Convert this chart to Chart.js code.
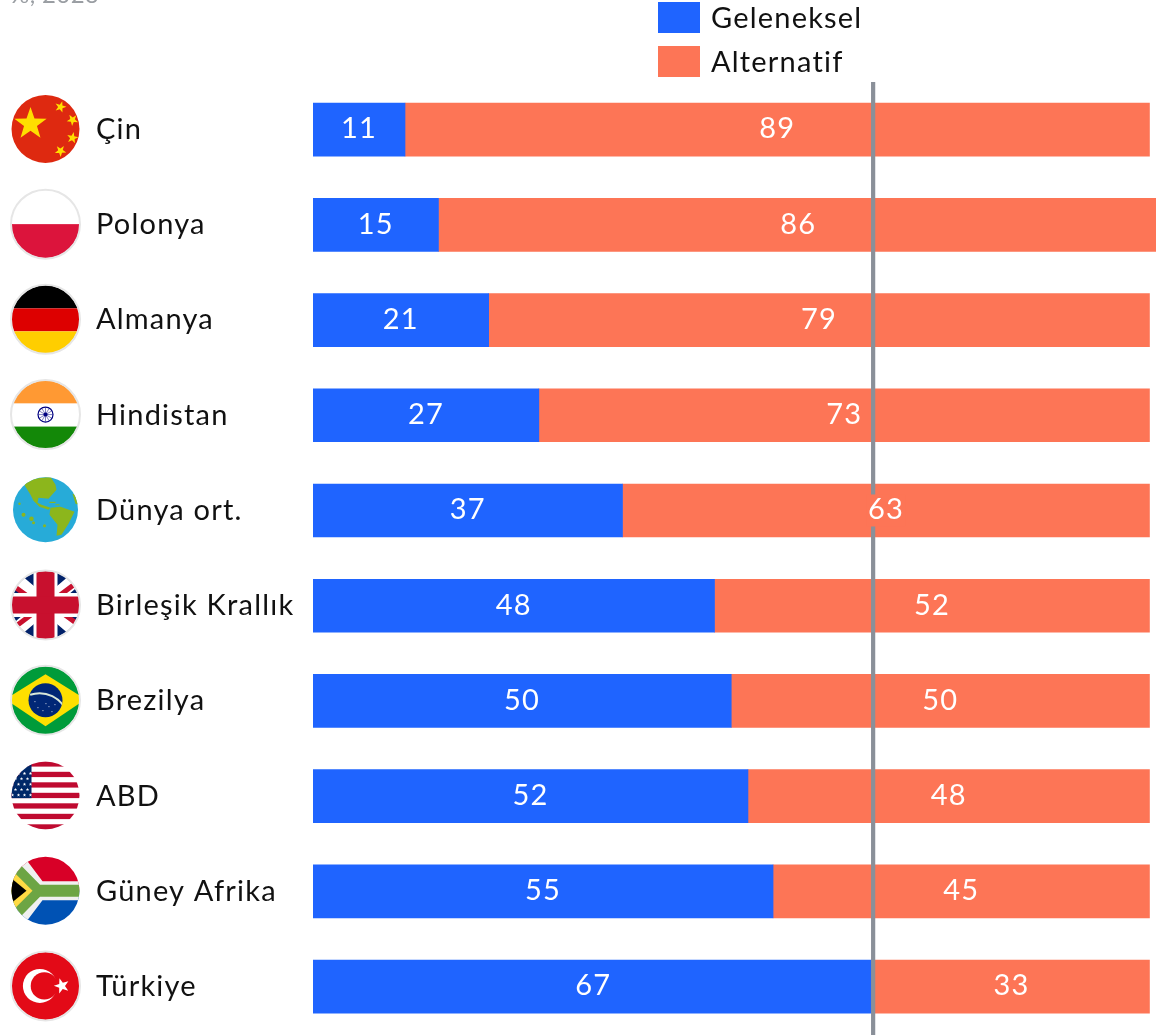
<!DOCTYPE html>
<html lang="tr"><head><meta charset="utf-8">
<style>html,body{margin:0;padding:0;background:#fff}canvas{display:block}</style>
<script src="https://cdn.jsdelivr.net/npm/chart.js@4"></script></head>
<body><canvas id="c" width="1156" height="1035"></canvas>
<script>
const categories=["Çin","Polonya","Almanya","Hindistan","Dünya ort.","Birleşik Krallık","Brezilya","ABD","Güney Afrika","Türkiye"];
const geleneksel=[11,15,21,27,37,48,50,52,55,67];
const alternatif=[89,86,79,73,63,52,50,48,45,33];
const seriesNames=["Geleneksel","Alternatif"];
const seriesColors=["#1f64ff","#fd7556"];
const referenceValue=67;
const axisMax=100.78;
const subtitle="%, 2023";
const flagKeys=["cn","pl","de","in","world","gb","br","us","za","tr"];
const FONT='Lato, sans-serif';
const SIZE=29, SPACING='1.2px';

function star(c,x,y,r,rot,color){c.fillStyle=color;c.beginPath();
 for(let i=0;i<10;i++){const a=rot-Math.PI/2+i*Math.PI/5,q=i%2?r*0.4:r;c.lineTo(x+q*Math.cos(a),y+q*Math.sin(a));}
 c.closePath();c.fill();}
function rect(c,col,x,y,w,h){c.fillStyle=col;c.fillRect(x,y,w,h);}
function poly(c,col,p){c.fillStyle=col;c.beginPath();p.forEach(q=>c.lineTo(q[0],q[1]));c.closePath();c.fill();}
const flags={
 cn(c){rect(c,'#de2910',-40,-40,80,80);star(c,-15,-5,17,0,'#ffde00');
  [[15,-22,0.3],[27,-9,0.7],[27,9,0.2],[15,22,0.6]].forEach(s=>star(c,s[0],s[1],6,s[2],'#ffde00'));},
 pl(c){rect(c,'#fff',-40,-40,80,40);rect(c,'#dc143c',-40,0,80,40);},
 de(c){rect(c,'#000',-40,-40,80,29);rect(c,'#dd0000',-40,-11,80,23);rect(c,'#ffce00',-40,12,80,28);},
 in(c){rect(c,'#ff9933',-40,-40,80,29);rect(c,'#fff',-40,-11,80,23);rect(c,'#138808',-40,12,80,28);
  c.strokeStyle='#000080';c.lineWidth=1.2;c.beginPath();c.arc(0,0,7.5,0,7);c.stroke();
  c.lineWidth=.5;for(let i=0;i<12;i++){const a=i*Math.PI/6;c.beginPath();c.moveTo(0,0);c.lineTo(7*Math.cos(a),7*Math.sin(a));c.stroke();}
  c.fillStyle='#000080';c.beginPath();c.arc(0,0,2,0,7);c.fill();},
 world(c){rect(c,'#27abd8',-40,-40,80,80);
  const L='#8cb61c';
  const na=[[-22,-27],[-12,-31],[5,-33],[10,-25],[11,-20],[3,-11],[-7,-12],[-8,-7],[-4,-5],[5,-2],[3,0],[-6,-3],[-12,-9],[-15,-15],[-20,-23]];
  const sa=[[5,-2],[15,-3],[29,2],[23,14],[16,25],[11,26],[12,15],[4,5]];
  poly(c,L,na);poly(c,L,sa);poly(c,L,[[27,-16],[33,-14],[33,-5],[30,-6]]);
  [[-26,-6,1.2],[-22,5,2],[-14,9,2.2],[-12,13,1.5],[-1,16,1.5]].forEach(p=>{c.fillStyle=L;c.beginPath();c.arc(p[0],p[1],p[2],0,7);c.fill();});
  [[4,-8,6,1.2],[10,-5.5,4,1]].forEach(p=>{c.fillStyle=L;c.fillRect(p[0],p[1],p[2],p[3]);});},
 gb(c){rect(c,'#012169',-40,-40,80,80);
  c.strokeStyle='#fff';c.lineWidth=14;c.beginPath();c.moveTo(-40,-34);c.lineTo(40,34);c.moveTo(-40,34);c.lineTo(40,-34);c.stroke();
  c.strokeStyle='#c8102e';c.lineWidth=5;c.beginPath();c.moveTo(-36,-22);c.lineTo(-10,-3);c.moveTo(36,22);c.lineTo(10,3);c.moveTo(-36,26);c.lineTo(-12,8);c.moveTo(36,-26);c.lineTo(12,-8);c.stroke();
  rect(c,'#fff',-12,-40,24,80);rect(c,'#fff',-40,-12,80,24);
  rect(c,'#c8102e',-9,-40,18,80);rect(c,'#c8102e',-40,-8.5,80,17);},
 br(c){rect(c,'#009b3a',-40,-40,80,80);poly(c,'#fedf00',[[-40,-1],[0,-26],[40,-1],[0,26]]);
  c.fillStyle='#002776';c.beginPath();c.arc(0,0,17,0,7);c.fill();
  c.save();c.beginPath();c.arc(0,0,17,0,7);c.clip();c.strokeStyle='#d8e8d8';c.lineWidth=2;c.beginPath();c.arc(-6,22,29,-1.9,-0.3);c.stroke();c.restore();
  c.fillStyle='#fff';[[-8,7],[-3,10],[3,6],[6,11],[9,4],[-11,1],[0,3]].forEach(p=>c.fillRect(p[0],p[1],.9,.9));},
 us(c){rect(c,'#fff',-40,-40,80,80);[-31.5,-21,-10.5,0,10.5,21,31.5].forEach(y=>rect(c,'#bf0a30',-40,y-2.65,80,5.3));
  rect(c,'#002868',-40,-40,26,42.7);
  for(let r=0;r<5;r++)for(let k=0;k<4;k++)star(c,-33+k*6+(r%2?3:0),-22+r*5.4,1.8,0,'#fff');},
 za(c){rect(c,'#d80027',-40,-40,80,40);rect(c,'#0052b4',-40,0,80,40);
  poly(c,'#f0f0f0',[[-40,-40],[-26,-40],[-3,-9.5],[40,-9.5],[40,9.5],[-3,9.5],[-26,40],[-40,40]]);
  poly(c,'#6da544',[[-40,-32],[-31,-32],[-5.5,-6],[40,-6],[40,6],[-5.5,6],[-31,32],[-40,32]]);
  poly(c,'#ffda44',[[-40,-21],[-34,-21],[-13,0],[-34,21],[-40,21]]);
  poly(c,'#000',[[-40,-17],[-19,0],[-40,17]]);},
 tr(c){rect(c,'#e30a17',-40,-40,80,80);c.fillStyle='#fff';c.beginPath();c.arc(-5.6,0,17,0,7);c.fill();
  c.fillStyle='#e30a17';c.beginPath();c.arc(-1.2,0,13.6,0,7);c.fill();star(c,16.3,0,8,-0.3,'#fff');}
};
const ringed={pl:1,de:1,in:1,gb:1,br:1,tr:1};

const reskin={id:'reskin',
 beforeDraw(ch){ch.ctx.letterSpacing=SPACING;},
 afterDatasetsDraw(ch){
  const c=ch.ctx,xs=ch.scales.x,ys=ch.scales.y,a=ch.chartArea;
  const lx=xs.getPixelForValue(referenceValue);
  c.save();c.fillStyle='#8a9099';c.fillRect(lx-2.4,a.top,4.2,ch.height-a.top);c.restore();
  c.save();c.font=SIZE+'px '+FONT;c.textAlign='center';c.textBaseline='middle';c.letterSpacing=SPACING;
  ch.data.datasets.forEach((ds,di)=>{
   const m=ch.getDatasetMeta(di);
   m.data.forEach((b,i)=>{
    const base=di===0?0:ch.data.datasets[0].data[i];
    const tx=xs.getPixelForValue(base+ds.data[i]/2),w=c.measureText(String(ds.data[i])).width;
    if(tx-w/2<lx+2&&tx+w/2>lx-2){c.fillStyle=ds.backgroundColor;c.fillRect(tx-w/2-1,b.y-16,w+2,32);}
    c.fillStyle='#fff';c.fillText(String(ds.data[i]),tx,b.y-0.5);
   });
  });
  c.restore();
  flagKeys.forEach((k,i)=>{
   const y=ys.getPixelForValue(i)-0.7,x=45.5;
   c.save();c.translate(x,y);
   c.save();c.beginPath();c.arc(0,0,k==='world'?32.5:34,0,7);c.clip();flags[k](c);c.restore();
   if(ringed[k]){c.strokeStyle='#e6e6e6';c.lineWidth=2;c.beginPath();c.arc(0,0,34.5,0,7);c.stroke();}
   c.restore();
  });
  c.save();c.font=SIZE+'px '+FONT;c.textAlign='left';c.textBaseline='middle';c.letterSpacing=SPACING;
  ch.data.datasets.forEach((ds,i)=>{
   const t=2+i*44;c.fillStyle=ds.backgroundColor;c.fillRect(658,t,42,31);
   c.fillStyle='#111';c.fillText(ds.label,711,t+17);});
  c.font='24px '+FONT;c.letterSpacing='0.4px';
  c.fillStyle='#9a9ea3';c.textBaseline='alphabetic';c.fillText(subtitle,10,3);
  c.restore();
 }};

new Chart(document.getElementById('c'),{type:'bar',plugins:[reskin],
 data:{labels:categories,datasets:[
  {label:seriesNames[0],data:geleneksel,backgroundColor:seriesColors[0],barThickness:53,borderWidth:0},
  {label:seriesNames[1],data:alternatif,backgroundColor:seriesColors[1],barThickness:53,borderWidth:0}]},
 options:{indexAxis:'y',responsive:false,animation:false,devicePixelRatio:1,
  layout:{padding:{left:96,top:82,bottom:0.8,right:0}},
  plugins:{legend:{display:false},tooltip:{enabled:false}},
  scales:{
   x:{stacked:true,display:false,min:0,max:axisMax},
   y:{stacked:true,grid:{display:false},border:{display:false},
      afterFit(s){s.width=217;s.paddingTop=0;s.paddingBottom=0;},
      ticks:{crossAlign:'far',padding:0,color:'#111',font:{family:FONT,size:SIZE}}}
  }}});
</script></body></html>
